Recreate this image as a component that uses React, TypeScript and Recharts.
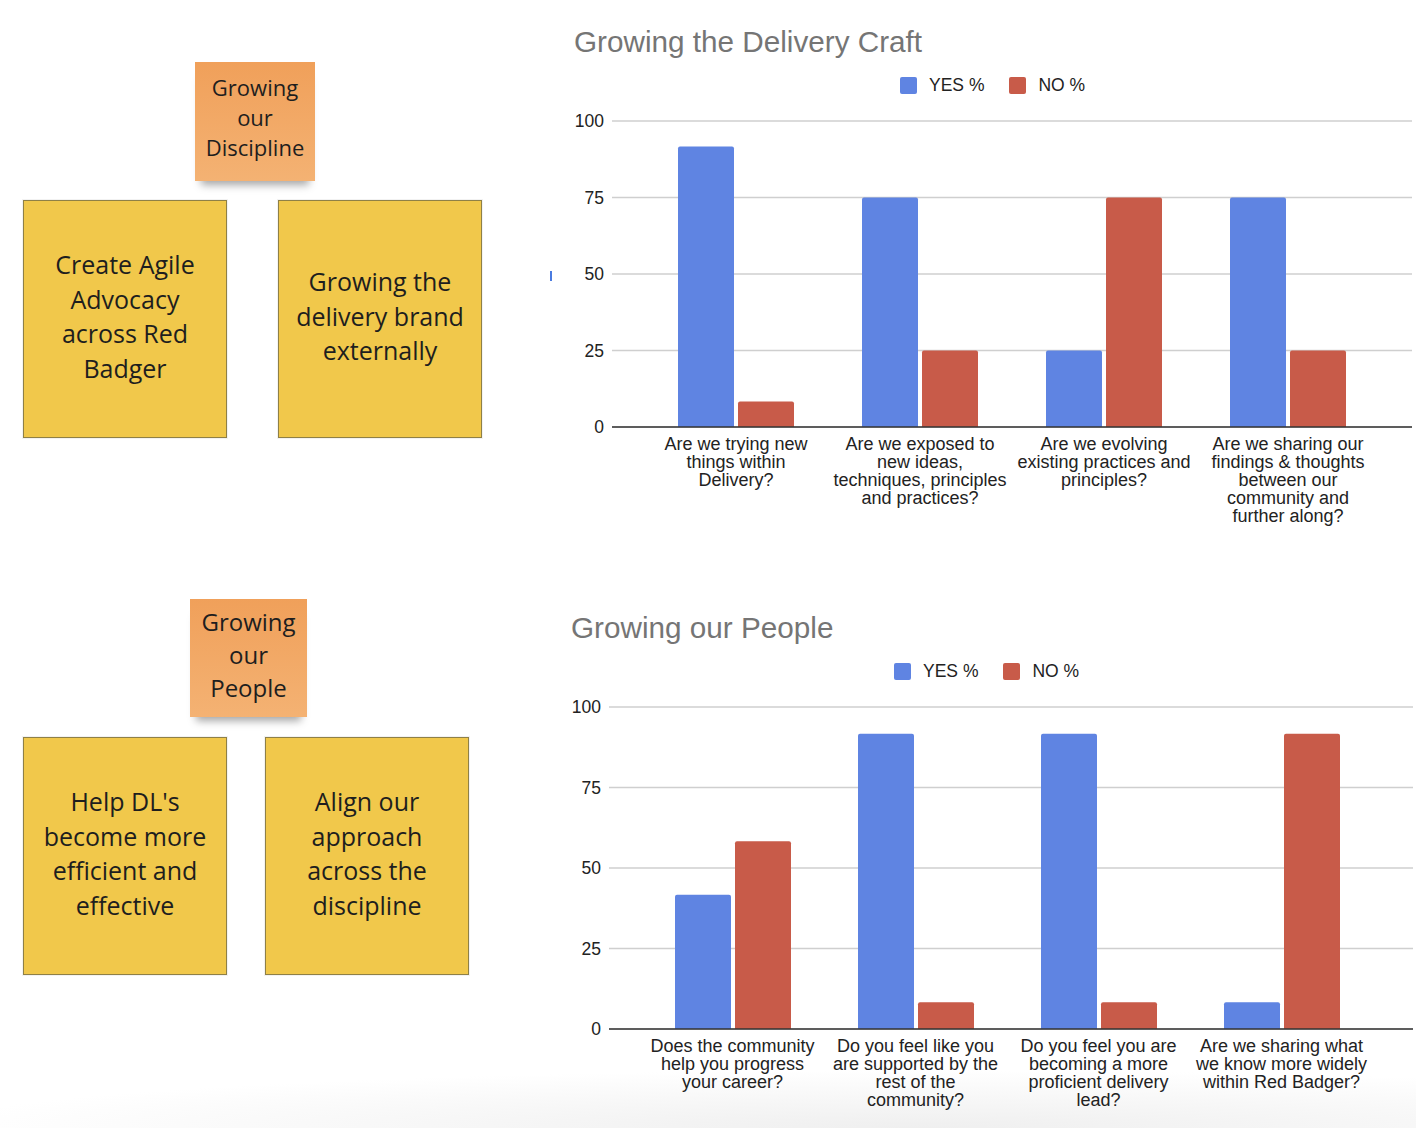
import React from "react"
import { BarChart, Bar, XAxis, YAxis, CartesianGrid } from "recharts"

// chart 1 — Growing the Delivery Craft
const craftQuestions = [
  "Are we trying new\nthings within\nDelivery?",
  "Are we exposed to\nnew ideas,\ntechniques, principles\nand practices?",
  "Are we evolving\nexisting practices and\nprinciples?",
  "Are we sharing our\nfindings & thoughts\nbetween our\ncommunity and\nfurther along?",
]
const craftYes = [91.7, 75, 25, 75]
const craftNo = [8.3, 25, 75, 25]

// chart 2 — Growing our People
const peopleQuestions = [
  "Does the community\nhelp you progress\nyour career?",
  "Do you feel like you\nare supported by the\nrest of the\ncommunity?",
  "Do you feel you are\nbecoming a more\nproficient delivery\nlead?",
  "Are we sharing what\nwe know more widely\nwithin Red Badger?",
]
const peopleYes = [41.7, 91.7, 91.7, 8.3]
const peopleNo = [58.3, 8.3, 8.3, 91.7]

const yTicks = [0, 25, 50, 75, 100]
const seriesNames = ["YES %", "NO %"]

const BLUE = "#5f84e2"
const RED = "#c85b49"
const FONT = "'Liberation Sans', Arial, sans-serif"
const NOTE_FONT = "'Open Sans', 'Noto Sans', sans-serif"

const toRows = (qs: string[], yes: number[], no: number[]) =>
  qs.map((q, i) => ({ q, yes: yes[i], no: no[i] }))

const QuestionTick = (props: any) => {
  const { x, y, payload } = props
  const lines = String(payload.value).split("\n")
  return (
    <text x={x} y={y} textAnchor="middle" fontSize={18} fill="#222" fontFamily={FONT}>
      {lines.map((l, i) => (
        <tspan key={i} x={x} dy={i === 0 ? 15 : 18}>
          {l}
        </tspan>
      ))}
    </text>
  )
}

function LegendRow({ left, top }: { left: number; top: number }) {
  const colors = [BLUE, RED]
  return (
    <div style={{ position: "absolute", left, top, display: "flex", alignItems: "center", fontFamily: FONT, fontSize: 17.5, color: "#222" }}>
      {seriesNames.map((n, i) => (
        <div key={n} style={{ display: "flex", alignItems: "center", marginRight: i === 0 ? 25 : 0 }}>
          <div style={{ width: 17, height: 17, borderRadius: 2, background: colors[i], marginRight: 12 }} />
          <span>{n}</span>
        </div>
      ))}
    </div>
  )
}

function SurveyChart(props: {
  left: number
  top: number
  width: number
  height: number
  marginRight: number
  marginBottom: number
  padRight: number
  rows: any[]
}) {
  const { left, top, width, height, marginRight, marginBottom, padRight, rows } = props
  return (
    <div style={{ position: "absolute", left, top }}>
      <BarChart
        width={width}
        height={height}
        data={rows}
        margin={{ top: 21, right: marginRight, bottom: marginBottom, left: 0 }}
        barSize={56}
        barGap={4}
      >
        <CartesianGrid vertical={false} stroke="#cfcfcf" strokeWidth={1.3} />
        <XAxis
          dataKey="q"
          interval={0}
          height={100}
          tickLine={false}
          axisLine={{ stroke: "#333", strokeWidth: 1.6 }}
          tick={<QuestionTick />}
          padding={{ left: 32, right: padRight }}
        />
        <YAxis
          width={52}
          domain={[0, 100]}
          ticks={yTicks}
          axisLine={false}
          tickLine={false}
          tick={{ fontSize: 17.5, fill: "#222", fontFamily: FONT }}
        />
        <Bar dataKey="yes" name={seriesNames[0]} fill={BLUE} radius={[2, 2, 0, 0]} isAnimationActive={false} />
        <Bar dataKey="no" name={seriesNames[1]} fill={RED} radius={[2, 2, 0, 0]} isAnimationActive={false} />
      </BarChart>
    </div>
  )
}

function Sticky(props: {
  left: number
  top: number
  w: number
  h: number
  text: string
  orange?: boolean
  fontSize: number
  lineHeight: number
  lift: number
}) {
  const { left, top, w, h, text, orange, fontSize, lineHeight, lift } = props
  return (
    <div
      style={{
        position: "absolute",
        left,
        top,
        width: w,
        height: h,
        boxSizing: "border-box",
        display: "flex",
        alignItems: "center",
        justifyContent: "center",
        textAlign: "center",
        paddingBottom: lift * 2,
        fontFamily: NOTE_FONT,
        fontSize,
        lineHeight: lineHeight + "px",
        color: "#1e1e1e",
        background: orange ? "linear-gradient(#f0a05a, #f4b273)" : "#f1c84b",
        border: orange ? "none" : "1px solid #8f8046",
        boxShadow: orange ? "0 10px 8px -6px rgba(0,0,0,0.35)" : "0 0 0 1px rgba(0,0,0,0.05)",
        whiteSpace: "pre-line",
      }}
    >
      {text}
    </div>
  )
}

const titleStyle: React.CSSProperties = {
  position: "absolute",
  fontFamily: FONT,
  fontSize: 29.7,
  color: "#757575",
  lineHeight: "34px",
  whiteSpace: "nowrap",
}

export default function App() {
  return (
    <div style={{ position: "absolute", left: 0, top: 0, width: 1416, height: 1128, background: "#fff", overflow: "hidden" }}>
      <div
        style={{
          position: "absolute",
          left: 0,
          top: 1070,
          width: 1416,
          height: 58,
          background: "radial-gradient(ellipse 70% 100% at 65% 100%, #efefef, rgba(255,255,255,0))",
        }}
      />

      <Sticky left={195} top={62} w={120} h={119} text={"Growing\nour\nDiscipline"} orange fontSize={22} lineHeight={30} lift={5} />
      <Sticky left={23} top={200} w={204} h={238} text={"Create Agile\nAdvocacy\nacross Red\nBadger"} fontSize={25} lineHeight={34.5} lift={3} />
      <Sticky left={278} top={200} w={204} h={238} text={"Growing the\ndelivery brand\nexternally"} fontSize={25} lineHeight={34.5} lift={3} />

      <Sticky left={190} top={599} w={117} h={118} text={"Growing\nour\nPeople"} orange fontSize={24} lineHeight={33} lift={4} />
      <Sticky left={23} top={737} w={204} h={238} text={"Help DL's\nbecome more\nefficient and\neffective"} fontSize={25} lineHeight={34.5} lift={3} />
      <Sticky left={265} top={737} w={204} h={238} text={"Align our\napproach\nacross the\ndiscipline"} fontSize={25} lineHeight={34.5} lift={3} />

      <div style={{ position: "absolute", left: 550, top: 271, width: 1.5, height: 10, background: "#4a7be0" }} />

      <div style={{ ...titleStyle, left: 574, top: 25 }}>Growing the Delivery Craft</div>
      <LegendRow left={900} top={75} />
      <SurveyChart
        left={560}
        top={100}
        width={856}
        height={440}
        marginRight={4}
        marginBottom={13}
        padRight={32}
        rows={toRows(craftQuestions, craftYes, craftNo)}
      />

      <div style={{ ...titleStyle, left: 571, top: 611 }}>Growing our People</div>
      <LegendRow left={894} top={661} />
      <SurveyChart
        left={557}
        top={686}
        width={859}
        height={460}
        marginRight={3}
        marginBottom={17}
        padRight={40}
        rows={toRows(peopleQuestions, peopleYes, peopleNo)}
      />
    </div>
  )
}
